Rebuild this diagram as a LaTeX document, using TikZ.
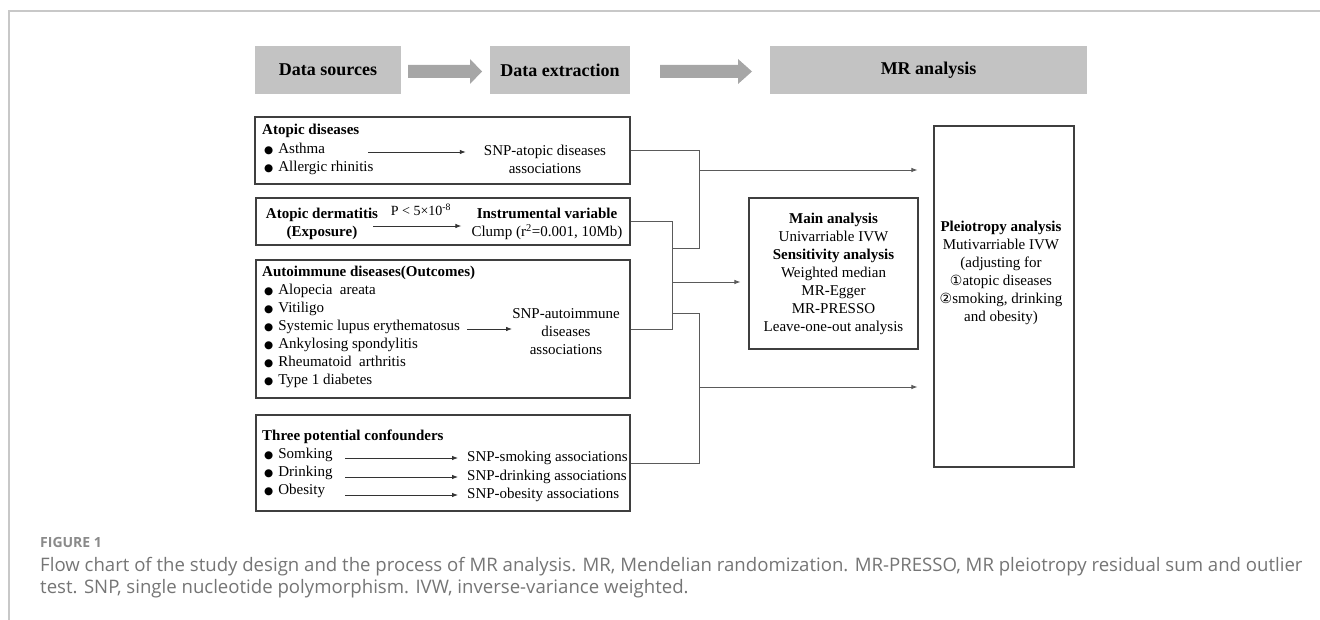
\documentclass[tikz,border=0pt]{standalone}
\usepackage{fontspec}
\setmainfont{Liberation Serif}
\newfontfamily\symfont{DejaVu Sans}
\newfontfamily\capfont{Open Sans}
\usetikzlibrary{positioning}
\usetikzlibrary{arrows.meta}
\definecolor{hdrgray}{HTML}{C3C3C3}
\definecolor{arrgray}{HTML}{A6A6A6}
\definecolor{boxline}{HTML}{3F3F3F}
\definecolor{wiregray}{HTML}{5A5A5A}
\definecolor{framegray}{HTML}{C8C8C8}
\definecolor{capgray}{HTML}{757575}
\definecolor{labgray}{HTML}{8A8A8A}
\newcommand{\bul}{{\symfont\fontsize{10.5}{10.5}\selectfont ●}\hspace{5pt}}
\newcommand{\circnum}[1]{{\symfont\fontsize{14}{14}\selectfont #1}}
\newcommand{\bodyfont}{\fontsize{15}{18}\selectfont}
\tikzset{
	hdr/.style={fill=hdrgray, minimum height=48pt, inner sep=0pt, font=\fontsize{18}{21}\selectfont\bfseries},
	blockarrow/.style={fill=arrgray},
	panel/.style={draw=boxline, line width=1.1pt, inner sep=0pt},
	txt/.style={inner sep=0pt, text height=11pt, text depth=3.5pt, font=\bodyfont},
	mtxt/.style={inner sep=0pt, align=center, font=\bodyfont},
	wire/.style={draw=wiregray, line width=0.9pt},
	wirearrow/.style={wire, -{Latex[length=6pt,width=4.5pt]}},
	thinarrow/.style={draw=black!80, line width=0.8pt, -{Latex[length=6pt,width=4.5pt]}},
}
\begin{document}
\begin{tikzpicture}[x=1pt,y=-1pt]
	\useasboundingbox (0,0) rectangle (1320,620);
	\draw[framegray, line width=1.2pt] (9,620) -- (9,11) -- (1320,11);

	\node[hdr, minimum width=146pt] (src) at (328,70) {Data sources};
	\node[hdr, minimum width=140pt] (ext) at (560,70) {Data extraction};
	\node[hdr, minimum width=317pt] (mr) at (928.5,70) {MR analysis};
	\fill[blockarrow] (408,65) -- (470,65) -- (470,59) -- (482,71.5) -- (470,84) -- (470,78) -- (408,78) -- cycle;
	\fill[blockarrow] (660,65) -- (738,65) -- (738,59) -- (752,71.5) -- (738,84) -- (738,78) -- (660,78) -- cycle;

	\node[panel, minimum width=375pt, minimum height=67pt] (atop) at (442.5,150.5) {};
	\node[panel, minimum width=374pt, minimum height=47pt] (ad) at (443,221.5) {};
	\node[panel, minimum width=374pt, minimum height=138pt] (auto) at (443,329) {};
	\node[panel, minimum width=374pt, minimum height=96pt] (conf) at (443,463) {};
	\node[panel, minimum width=169pt, minimum height=151pt, align=center, font=\bodyfont] (main) at (833.5,273.5) {\textbf{Main analysis}\\Univarriable IVW\\\textbf{Sensitivity analysis}\\Weighted median\\MR-Egger\\MR-PRESSO\\Leave-one-out analysis};
	\node[panel, minimum width=140pt, minimum height=341pt] (pleio) at (1004,296.5) {};
	\node[mtxt] (pleiotxt) at (1001,273) {\textbf{Pleiotropy analysis}\\Mutivarriable IVW\\(adjusting for\\\circnum{①}atopic diseases\\\circnum{②}smoking, drinking\\and obesity)};

	\node[txt, anchor=west, font=\bodyfont\bfseries] (atoptitle) at (262,131) {Atopic diseases};
	\node[txt, anchor=west] (asthma) at (264,150) {\bul Asthma};
	\node[txt, anchor=west] (rhinitis) at (264,168) {\bul Allergic rhinitis};
	\node[mtxt] (snpatop) at (545,159) {SNP-atopic diseases\\associations};
	\coordinate (atarr) at (368,152);
	\draw[thinarrow, shorten >=18pt] (atarr) -- (atarr -| snpatop.west);

	\node[mtxt, font=\bodyfont\bfseries] (adname) at (322,224) {Atopic dermatitis\\(Exposure)};
	\node[txt, font=\fontsize{14}{16}\selectfont] (pthresh) at (421,212) {P < 5×10\textsuperscript{-8}};
	\node[mtxt] (ivar) at (547,224) {\textbf{Instrumental variable}\\Clump (r\textsuperscript{2}=0.001, 10Mb)};
	\coordinate (adarr) at (373,226);
	\draw[thinarrow, shorten >=10pt] (adarr) -- (adarr -| ivar.west);

	\node[txt, anchor=west, font=\bodyfont\bfseries] (autotitle) at (262,273) {Autoimmune diseases(Outcomes)};
	\node[txt, anchor=west] (aa) at (264,291) {\bul Alopecia\ \ areata};
	\node[txt, anchor=west] (vit) at (264,309) {\bul Vitiligo};
	\node[txt, anchor=west] (sle) at (264,327) {\bul Systemic lupus erythematosus};
	\node[txt, anchor=west] (as) at (264,345) {\bul Ankylosing spondylitis};
	\node[txt, anchor=west] (ra) at (264,363) {\bul Rheumatoid\ \ arthritis};
	\node[txt, anchor=west] (tdm) at (264,381) {\bul Type 1 diabetes};
	\node[mtxt] (snpauto) at (566,332) {SNP-autoimmune\\diseases\\associations};
	\coordinate (auarr) at (467,329);
	\draw[thinarrow] (auarr) -- (auarr -| snpauto.west);

	\node[txt, anchor=west, font=\bodyfont\bfseries] (conftitle) at (262,437) {Three potential confounders};
	\node[txt, anchor=west] (smk) at (264,455) {\bul Somking};
	\node[txt, anchor=west] (drk) at (264,473) {\bul Drinking};
	\node[txt, anchor=west] (obs) at (264,491) {\bul Obesity};
	\node[txt, anchor=west] (snpsmk) at (467,458) {SNP-smoking associations};
	\node[txt, anchor=west] (snpdrk) at (467,477) {SNP-drinking associations};
	\node[txt, anchor=west] (snpobs) at (467,495) {SNP-obesity associations};
	\coordinate (cfx) at (345,0);
	\draw[thinarrow, shorten >=9pt] (cfx |- snpsmk.west) -- (snpsmk.west);
	\draw[thinarrow, shorten >=9pt] (cfx |- snpdrk.west) -- (snpdrk.west);
	\draw[thinarrow, shorten >=9pt] (cfx |- snpobs.west) -- (snpobs.west);

	\coordinate (busa) at (699,0);
	\coordinate (busb) at (672,0);
	\coordinate (ja) at (672,248);
	\coordinate (jm) at (672,282);
	\coordinate (jc) at (672,313);
	\coordinate (jp) at (699,170);
	\coordinate (jq) at (699,387);
	\draw[wire] (atop.east) -| (ja -| busa) -- (ja);
	\draw[wire] (ad.east) -| (busb |- auto.east) -- (auto.east);
	\draw[wire] (jc) -- (jc -| busa) |- (conf.east);
	\draw[wirearrow, shorten >=8pt] (jm) -- (jm -| main.west);
	\draw[wirearrow, shorten >=16pt] (jp) -- (jp -| pleio.west);
	\draw[wirearrow, shorten >=16pt] (jq) -- (jq -| pleio.west);

	\node[anchor=base west, inner sep=0pt, text=labgray, font=\capfont\fontsize{14}{16}\selectfont\bfseries] (figlab) at (40,547) {FIGURE 1};
	\node[anchor=base west, inner sep=0pt, text=capgray, font=\capfont\fontsize{18.6}{22}\selectfont] (cap1) at (40,571) {Flow chart of the study design and the process of MR analysis. MR, Mendelian randomization. MR-PRESSO, MR pleiotropy residual sum and outlier};
	\node[anchor=base west, inner sep=0pt, text=capgray, font=\capfont\fontsize{18.6}{22}\selectfont] (cap2) at (40,593) {test. SNP, single nucleotide polymorphism. IVW, inverse-variance weighted.};
\end{tikzpicture}
\end{document}
